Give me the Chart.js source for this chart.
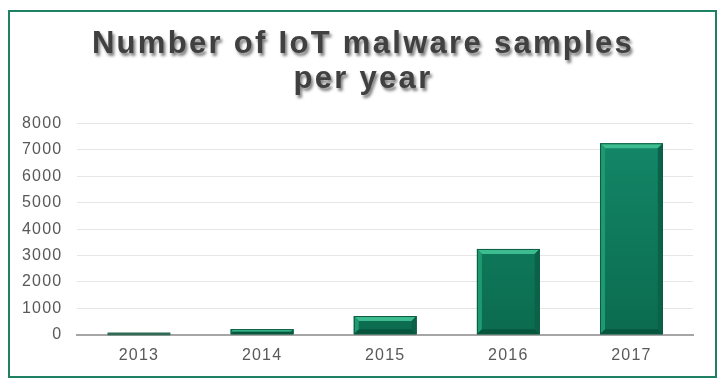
<!DOCTYPE html>
<html>
<head>
<meta charset="utf-8">
<script src="https://cdn.jsdelivr.net/npm/chart.js@4/dist/chart.umd.min.js"></script>
<style>
  html, body { margin: 0; padding: 0; background: #fff; }
  #frame {
    position: absolute;
    left: 8px;
    top: 10px;
    width: 709px;
    height: 368px;
    border: 2px solid #1f8063;
    box-sizing: border-box;
  }
  #chart { display: block; }
</style>
</head>
<body>
<div id="frame"><canvas id="chart" width="705" height="364"></canvas></div>
<script>
const years = ["2013", "2014", "2015", "2016", "2017"];
const samples = [50, 215, 710, 3250, 7250];
const yTicks = [0, 1000, 2000, 3000, 4000, 5000, 6000, 7000, 8000];
const titleLines = ["Number of IoT malware samples", "per year"];

// the reference text is a little wider than the fonts we have
const spacing = {
  id: "spacing",
  beforeLayout(chart) { chart.ctx.letterSpacing = "1.2px"; },
  beforeDraw(chart) { chart.ctx.letterSpacing = "1.2px"; },
};

// shadow behind the title text, and re-centre it on the frame
const titleShadow = {
  id: "titleShadow",
  beforeDraw(chart) {
    const tb = chart.titleBlock;
    if (!tb || tb._shadowed) return;
    const orig = tb.draw.bind(tb);
    tb.draw = function (area) {
      const ctx = chart.ctx;
      ctx.save();
      ctx.translate(13, 0);
      ctx.letterSpacing = "2.3px";
      ctx.shadowColor = "rgba(0,0,0,0.5)";
      ctx.shadowOffsetX = 2;
      ctx.shadowOffsetY = 3;
      ctx.shadowBlur = 3;
      orig(area);
      ctx.restore();
    };
    tb._shadowed = true;
  },
};

// bevel edges on each bar
const barBevel = {
  id: "barBevel",
  afterDatasetsDraw(chart) {
    const ctx = chart.ctx;
    chart.getDatasetMeta(0).data.forEach((bar) => {
      const l = bar.x - bar.width / 2;
      const r = bar.x + bar.width / 2;
      const t = bar.y;
      const b = bar.base;
      const h = b - t;
      ctx.save();
      if (h < 3) {
        // very small value: a dark sliver on the axis line
        ctx.fillStyle = "#2f6b55";
        ctx.fillRect(l, t - 1, r - l, h + 2);
        ctx.restore();
        return;
      }
      const s = Math.min(5, h / 2);
      // top
      ctx.fillStyle = "#3dbd8f";
      ctx.beginPath();
      ctx.moveTo(l, t); ctx.lineTo(r, t); ctx.lineTo(r - s, t + s); ctx.lineTo(l + s, t + s);
      ctx.closePath(); ctx.fill();
      // left
      ctx.fillStyle = "#1f9a70";
      ctx.beginPath();
      ctx.moveTo(l, t); ctx.lineTo(l + s, t + s); ctx.lineTo(l + s, b - s); ctx.lineTo(l, b);
      ctx.closePath(); ctx.fill();
      // right
      ctx.fillStyle = "#0b6248";
      ctx.beginPath();
      ctx.moveTo(r, t); ctx.lineTo(r - s, t + s); ctx.lineTo(r - s, b - s); ctx.lineTo(r, b);
      ctx.closePath(); ctx.fill();
      // bottom
      ctx.fillStyle = "#08553e";
      ctx.beginPath();
      ctx.moveTo(l, b); ctx.lineTo(l + s, b - s); ctx.lineTo(r - s, b - s); ctx.lineTo(r, b);
      ctx.closePath(); ctx.fill();
      ctx.strokeStyle = "#0b5a42";
      ctx.lineWidth = 1;
      ctx.strokeRect(l + 0.5, t + 0.5, r - l - 1, h - 1);
      ctx.restore();
    });
  },
};

const ctx = document.getElementById("chart").getContext("2d");

new Chart(ctx, {
  type: "bar",
  data: {
    labels: years,
    datasets: [
      {
        label: "Samples",
        data: samples,
        backgroundColor: function (c) {
          const area = c.chart.chartArea;
          if (!area) return "#0f7d5c";
          const g = c.chart.ctx.createLinearGradient(0, area.top, 0, area.bottom);
          g.addColorStop(0, "#14896a");
          g.addColorStop(1, "#0b6b4e");
          return g;
        },
        borderWidth: 0,
        barPercentage: 0.51,
        categoryPercentage: 1,
      },
    ],
  },
  options: {
    responsive: false,
    animation: false,
    layout: {
      padding: { left: -3, right: 22, top: 0, bottom: 0 },
    },
    plugins: {
      legend: { display: false },
      tooltip: { enabled: false },
      title: {
        display: true,
        text: titleLines,
        color: "#404040",
        font: { family: "Liberation Sans, Arial, sans-serif", size: 31, weight: "bold", lineHeight: 1.12 },
        padding: { top: 15, bottom: 27 },
      },
    },
    scales: {
      x: {
        grid: { display: false, drawTicks: false },
        border: { color: "#a6a6a6", width: 2 },
        ticks: {
          color: "#595959",
          padding: 11,
          font: { family: "Liberation Sans, Arial, sans-serif", size: 16 },
        },
      },
      y: {
        min: 0,
        max: 8000,
        afterBuildTicks: (axis) => {
          axis.ticks = yTicks.map((v) => ({ value: v }));
        },
        grid: { color: "#e6e6e6", drawTicks: false },
        border: { display: false },
        ticks: {
          color: "#595959",
          padding: 15,
          font: { family: "Liberation Sans, Arial, sans-serif", size: 16 },
          callback: (value) => String(value),
        },
      },
    },
  },
  plugins: [spacing, titleShadow, barBevel],
});
</script>
</body>
</html>
